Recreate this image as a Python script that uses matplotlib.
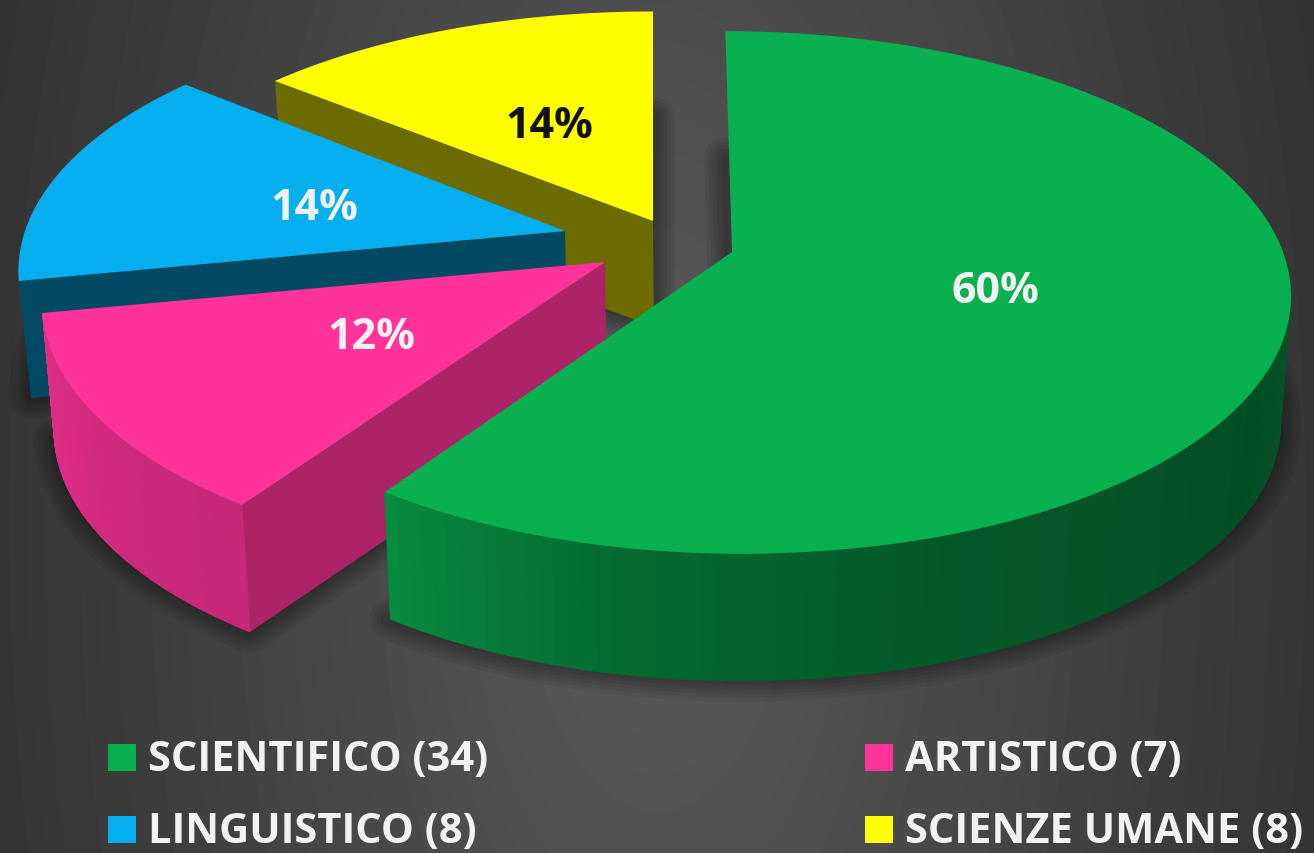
import numpy as np
import matplotlib
matplotlib.use("Agg")
import matplotlib.pyplot as plt
from matplotlib.patches import Polygon, Rectangle

plt.rcParams['font.family'] = ['Open Sans', 'DejaVu Sans']

labels = ['SCIENTIFICO (34)', 'ARTISTICO (7)', 'LINGUISTICO (8)', 'SCIENZE UMANE (8)']
values = [34, 7, 8, 8]
pct_labels = ['60%', '12%', '14%', '14%']
colors = ['#08b050', '#ff3399', '#05aeef', '#ffff00']
pct_colors = ['#f2f2f2', '#f2f2f2', '#f2f2f2', '#111111']

# slice geometry on screen, pixels
apex = [(732, 253), (605, 263), (565, 232), (653, 222)]
depth = [127, 127, 117, 106]
rx_right = [551, 558, 558, 558]
rx_left = [543, 556, 540, 538]
ry = [255, 258, 253, 242]
lean = [0.03, 0, 0, 0]
face = [None, 0.68, 0.42, 0.42]   # brightness of the visible cut face
pct_pos = [(995, 292), (371, 338), (314, 208), (549, 127)]
legend_pos = [(108, 758), (865, 758), (108, 830), (865, 830)]

PERSP = 0.155
VANISH_X = 700
CONVERGE = 0.018


def project(i, ang):
    u = np.sin(ang)
    v = np.cos(ang)
    s = 1 / (1 + PERSP * v)
    rx = rx_right[i] if u > 0 else rx_left[i]
    y = apex[i][1] - ry[i] * v * s
    return apex[i][0] + rx * u * s + lean[i] * (y - apex[i][1]), y


def lower(p, h):
    return p[0] + (VANISH_X - p[0]) * CONVERGE, p[1] + h


def shade(col, f):
    c = np.array(matplotlib.colors.to_rgb(col))
    return tuple(np.clip(c * f, 0, 1))


def wall_f(i, a):
    if i == 0:
        return np.interp(np.degrees(a), [85, 120, 160, 190, 215], [0.50, 0.44, 0.50, 0.60, 0.80])
    return np.interp(np.degrees(a), [214, 259], [0.78, 0.88])


fig = plt.figure(figsize=(13.14, 8.54), dpi=100)
ax = fig.add_axes([0, 0, 1, 1])

# background
yy, xx = np.mgrid[0:854, 0:1314]
d = np.sqrt(((xx - 657) / 900) ** 2 + ((yy - 520) / 1900) ** 2)
bg = np.clip(0.355 - 0.20 * d, 0, 1)
ax.imshow(bg, cmap='gray', vmin=0, vmax=1, extent=(0, 1314, 854, 0), aspect='auto', zorder=0)

fr = np.array(values) / sum(values)
edges = np.concatenate([[0], np.cumsum(fr)]) * 2 * np.pi

for n, i in enumerate([3, 2, 1, 0]):
    z = 2 + n
    a0, a1 = edges[i], edges[i + 1]
    h = depth[i]
    angs = np.linspace(a0, a1, 160)
    pts = [project(i, a) for a in angs]
    ap = apex[i]

    # soft shadow from the foot of the slice
    foot = [lower(p, h) for p in [ap] + pts]
    for lw in (4, 9, 14, 19, 24, 30):
        ax.add_patch(Polygon(foot, closed=True, fc='none', ec=(0, 0, 0, 0.06), lw=lw,
                             joinstyle='round', zorder=z))

    # visible cut face
    if face[i] is not None:
        p = pts[0]
        ax.add_patch(Polygon([ap, p, lower(p, h), lower(ap, h)], closed=True,
                             fc=shade(colors[i], face[i]), ec='none', zorder=z + 0.1))

    # outer wall, only the slices that turn towards the viewer
    if i in (0, 1):
        for k in range(len(pts) - 1):
            a = angs[k]
            if np.degrees(a) < 85:
                continue
            p, q = pts[k], pts[k + 1]
            c = shade(colors[i], wall_f(i, a))
            ax.add_patch(Polygon([p, q, lower(q, h), lower(p, h)], closed=True,
                                 fc=c, ec=c, lw=0.6, zorder=z + 0.1))

    ax.add_patch(Polygon([ap] + pts, closed=True, fc=colors[i], ec='none', zorder=z + 0.2))
    ax.text(pct_pos[i][0], pct_pos[i][1], pct_labels[i], color=pct_colors[i], fontsize=31,
            fontweight='bold', ha='center', va='center', zorder=10)

# legend
for i in range(4):
    x, y = legend_pos[i]
    ax.add_patch(Rectangle((x, y - 13), 28, 27, fc=colors[i], ec='none', zorder=10))
    ax.text(x + 40, y + 3, labels[i], color='#f2f2f2', fontsize=30, fontweight='bold',
            ha='left', va='center', zorder=10)

ax.set_xlim(0, 1314)
ax.set_ylim(854, 0)
ax.axis('off')
fig.savefig('out.png', dpi=100)
